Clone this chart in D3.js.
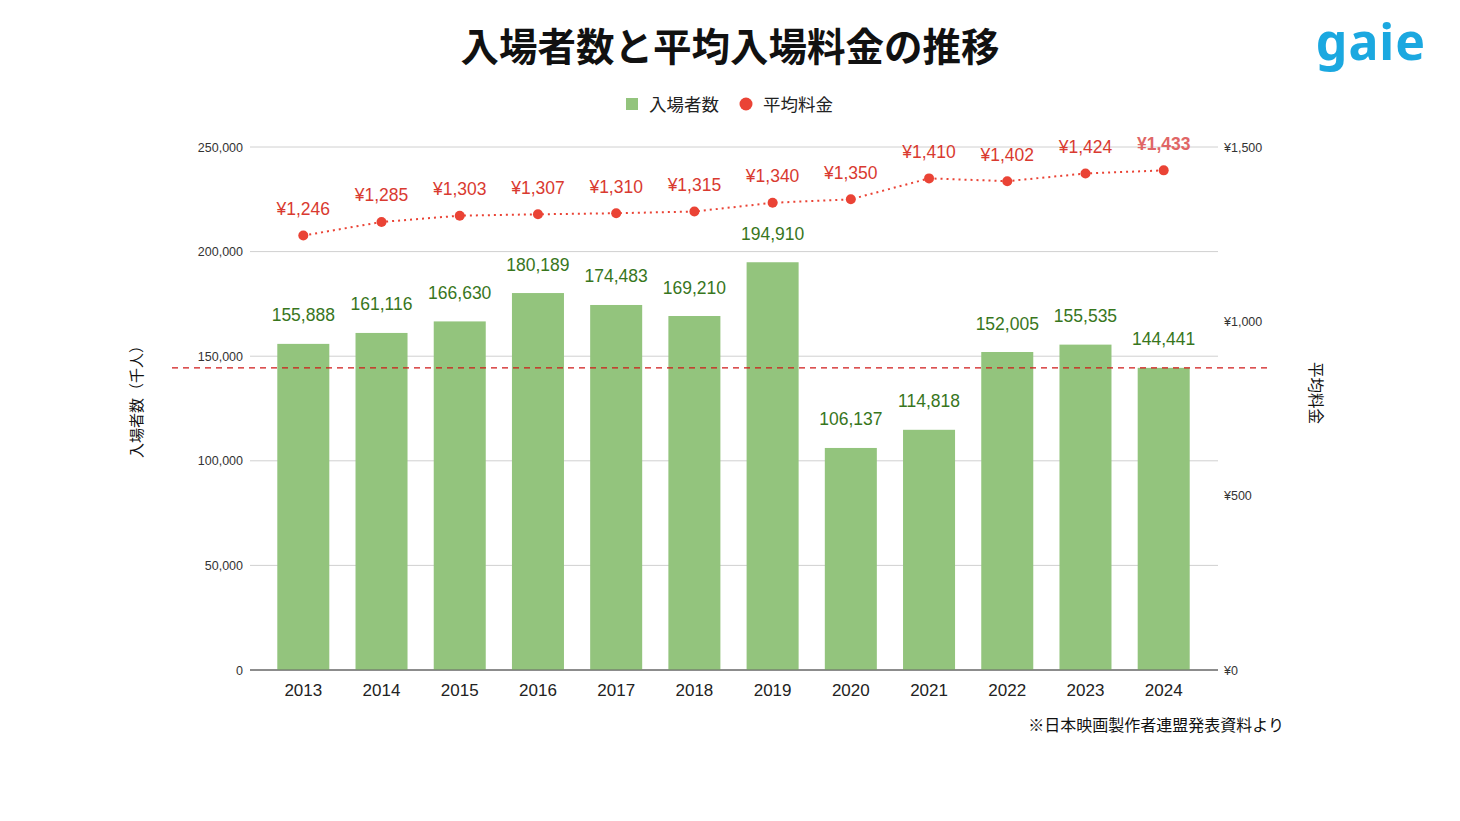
<!DOCTYPE html>
<html><head><meta charset="utf-8">
<script src="https://cdn.jsdelivr.net/npm/d3@7"></script>
<style>body{margin:0;background:#fff;} text{font-family:"Noto Sans CJK JP","Liberation Sans",sans-serif;}</style>
</head><body><svg id="c" width="1460" height="821"></svg>
<script>
const years = ["2013","2014","2015","2016","2017","2018","2019","2020","2021","2022","2023","2024"];
const attendance = [155888,161116,166630,180189,174483,169210,194910,106137,114818,152005,155535,144441];
const avgPrice = [1246,1285,1303,1307,1310,1315,1340,1350,1410,1402,1424,1433];
const leftTicks = [0,50000,100000,150000,200000,250000];
const rightTicks = [0,500,1000,1500];

const svg = d3.select("#c");
const F = '"Liberation Sans","Noto Sans CJK JP",sans-serif';
const plotTop = 147, plotBottom = 670, gl = 250, gr = 1218;
const x = d3.scaleBand().domain(years).range([264,1203]).paddingInner(0.335).paddingOuter(0.17);
const yL = d3.scaleLinear().domain([0,250000]).range([plotBottom, plotTop]);
const yR = d3.scaleLinear().domain([0,1500]).range([plotBottom, plotTop]);

// title
svg.append("text").attr("x",730).attr("y",61).attr("text-anchor","middle")
  .attr("font-size",38.5).attr("font-weight","bold").attr("fill","#111")
  .style("font-family",'"Noto Sans CJK JP",sans-serif').text("入場者数と平均入場料金の推移");
// logo
svg.append("text").attr("x",1371).attr("y",60).attr("text-anchor","middle")
  .attr("font-size",50).attr("font-weight","bold").attr("fill","#1ba8e0")
  .style("font-family",'"Noto Sans","Open Sans",sans-serif').style("letter-spacing","1px").text("gaie");

// legend
svg.append("rect").attr("x",626).attr("y",98).attr("width",12).attr("height",12).attr("fill","#93c47d");
svg.append("text").attr("x",649).attr("y",110.5).attr("font-size",17.5).attr("fill","#222").text("入場者数");
svg.append("circle").attr("cx",746).attr("cy",104).attr("r",6.5).attr("fill","#ea4335");
svg.append("text").attr("x",763).attr("y",110.5).attr("font-size",17.5).attr("fill","#222").text("平均料金");

// gridlines
svg.append("g").selectAll("line").data(leftTicks).join("line")
  .attr("x1",gl).attr("x2",gr).attr("y1",d=>yL(d)).attr("y2",d=>yL(d))
  .attr("stroke",d=>d===0?"#666":"#d0d0d0").attr("stroke-width",1);

// left axis labels
const lAxis = d3.axisLeft(yL).tickValues(leftTicks).tickFormat(d3.format(",")).tickSize(0).tickPadding(0);
const lg = svg.append("g").attr("transform",`translate(${gl-7},0)`).call(lAxis);
lg.select(".domain").remove();
lg.selectAll("text").attr("font-size",12.5).attr("fill","#333").style("font-family",F);

// right axis labels
const rAxis = d3.axisRight(yR).tickValues(rightTicks).tickFormat(d=>"¥"+d3.format(",")(d)).tickSize(0).tickPadding(0);
const rg = svg.append("g").attr("transform",`translate(${gr+6},0)`).call(rAxis);
rg.select(".domain").remove();
rg.selectAll("text").attr("font-size",12.5).attr("fill","#333").style("font-family",F);

// x axis labels
const xAxis = d3.axisBottom(x).tickSize(0).tickPadding(0);
const xg = svg.append("g").attr("transform",`translate(0,${plotBottom+26})`).call(xAxis);
xg.select(".domain").remove();
xg.selectAll("text").attr("font-size",17).attr("fill","#222").attr("dy",0).style("font-family",F);

// bars
svg.append("g").selectAll("rect").data(attendance).join("rect")
  .attr("x",(d,i)=>x(years[i])).attr("width",x.bandwidth())
  .attr("y",d=>yL(d)).attr("height",d=>plotBottom-yL(d)).attr("fill","#93c47d");
svg.append("line").attr("x1",gl).attr("x2",gr).attr("y1",yL(0)).attr("y2",yL(0)).attr("stroke","#666");

// bar labels
svg.append("g").selectAll("text").data(attendance).join("text")
  .attr("x",(d,i)=>x(years[i])+x.bandwidth()/2).attr("y",d=>yL(d)-22.5)
  .attr("text-anchor","middle").attr("font-size",17.5).attr("fill","#38761d")
  .style("font-family",F).text(d=>d3.format(",")(d));

// dashed reference line at latest attendance
svg.append("line").attr("x1",172).attr("x2",1272)
  .attr("y1",yL(attendance[attendance.length-1])).attr("y2",yL(attendance[attendance.length-1]))
  .attr("stroke","#d01818").attr("stroke-width",1.3).attr("stroke-dasharray","6,5");

// price line
const cx = (i)=>x(years[i])+x.bandwidth()/2;
svg.append("path").datum(avgPrice)
  .attr("d",d3.line().x((d,i)=>cx(i)).y(d=>yR(d)))
  .attr("fill","none").attr("stroke","#ea4335").attr("stroke-width",2).attr("stroke-dasharray","2,4");
svg.append("g").selectAll("circle").data(avgPrice).join("circle")
  .attr("cx",(d,i)=>cx(i)).attr("cy",d=>yR(d)).attr("r",5).attr("fill","#ea4335");
svg.append("g").selectAll("text").data(avgPrice).join("text")
  .attr("x",(d,i)=>cx(i)).attr("y",d=>yR(d)-20.5)
  .attr("text-anchor","middle").attr("font-size",17.5)
  .attr("fill",(d,i)=>i===avgPrice.length-1?"#e06666":"#d93a30")
  .attr("font-weight",(d,i)=>i===avgPrice.length-1?"bold":"normal")
  .style("font-family",F).text(d=>"¥"+d3.format(",")(d));

// axis titles
svg.append("text").attr("transform","translate(142,398) rotate(-90)").attr("text-anchor","middle")
  .attr("font-size",15).attr("fill","#111").text("入場者数（千人）");
svg.append("text").attr("transform","translate(1310,393) rotate(90)").attr("text-anchor","middle")
  .attr("font-size",15.5).attr("fill","#111").text("平均料金");

// source
svg.append("text").attr("x",1284).attr("y",731).attr("text-anchor","end")
  .attr("font-size",16).attr("fill","#111").text("※日本映画製作者連盟発表資料より");
</script></body></html>
